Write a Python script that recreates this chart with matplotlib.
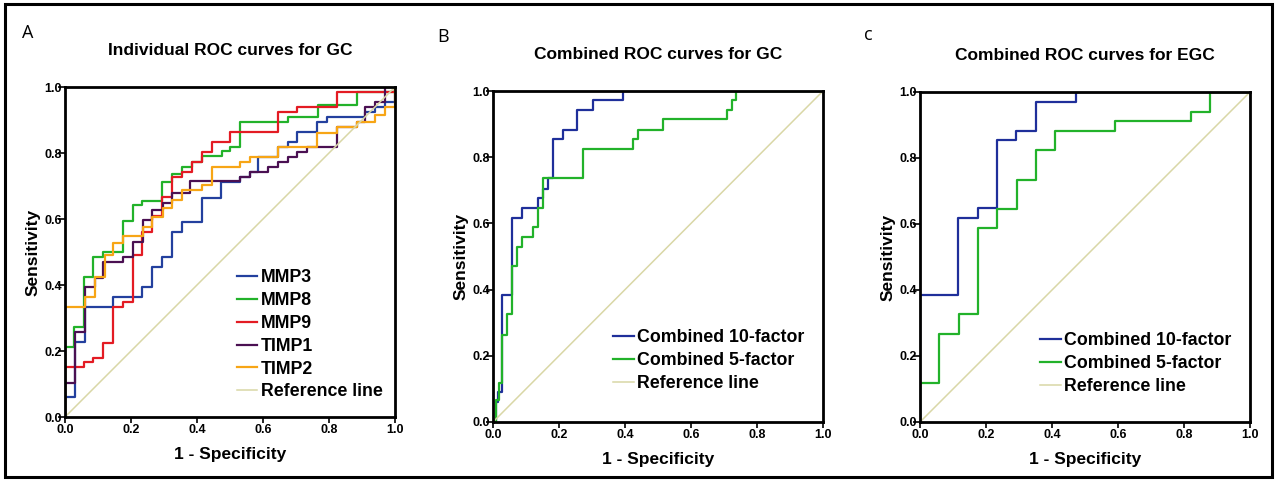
import matplotlib
matplotlib.use("Agg")
import matplotlib.pyplot as plt
from matplotlib.patches import Rectangle
from matplotlib.font_manager import FontProperties

plt.rcParams['font.family'] = ['Liberation Sans', 'DejaVu Sans']

# ---------------- data: ROC vertices (fpr where the rise happens, tpr after rise)
mmp3_fpr = [0, 0, 0.03, 0.06, 0.146, 0.234, 0.263, 0.295, 0.323, 0.355, 0.414, 0.472, 0.53, 0.56, 0.586, 0.646, 0.677, 0.702, 0.763, 0.793, 0.909, 0.939, 0.97, 1.0]
mmp3_tpr = [0, 0.06, 0.228, 0.332, 0.363, 0.393, 0.455, 0.485, 0.56, 0.59, 0.665, 0.712, 0.727, 0.742, 0.787, 0.818, 0.833, 0.863, 0.894, 0.909, 0.924, 0.94, 0.955, 1.0]

mmp8_fpr = [0, 0, 0.027, 0.058, 0.086, 0.116, 0.177, 0.207, 0.232, 0.293, 0.323, 0.354, 0.384, 0.414, 0.475, 0.5, 0.53, 0.677, 0.768, 0.884, 1.0]
mmp8_tpr = [0, 0.212, 0.273, 0.425, 0.485, 0.499, 0.595, 0.641, 0.654, 0.712, 0.737, 0.757, 0.772, 0.792, 0.805, 0.818, 0.894, 0.909, 0.944, 0.985, 1.0]

mmp9_fpr = [0, 0, 0.058, 0.086, 0.116, 0.146, 0.175, 0.205, 0.232, 0.263, 0.293, 0.323, 0.354, 0.384, 0.414, 0.444, 0.5, 0.646, 0.702, 0.823, 1.0]
mmp9_tpr = [0, 0.152, 0.167, 0.18, 0.225, 0.332, 0.347, 0.49, 0.56, 0.61, 0.666, 0.727, 0.742, 0.772, 0.803, 0.833, 0.863, 0.924, 0.939, 0.985, 1.0]

timp1_fpr = [0, 0, 0.03, 0.061, 0.091, 0.116, 0.177, 0.205, 0.237, 0.263, 0.296, 0.323, 0.379, 0.53, 0.56, 0.616, 0.646, 0.677, 0.702, 0.732, 0.823, 0.884, 0.909, 0.939, 0.97]
timp1_tpr = [0, 0.103, 0.258, 0.395, 0.42, 0.47, 0.485, 0.53, 0.597, 0.628, 0.648, 0.678, 0.714, 0.727, 0.742, 0.757, 0.772, 0.787, 0.803, 0.818, 0.879, 0.894, 0.939, 0.955, 1.0]

timp2_fpr = [0, 0, 0.061, 0.091, 0.121, 0.146, 0.177, 0.237, 0.263, 0.296, 0.323, 0.354, 0.414, 0.444, 0.53, 0.56, 0.646, 0.763, 0.823, 0.884, 0.94, 0.97, 1.0]
timp2_tpr = [0, 0.332, 0.364, 0.425, 0.491, 0.526, 0.547, 0.577, 0.607, 0.633, 0.658, 0.688, 0.703, 0.759, 0.772, 0.787, 0.818, 0.86, 0.879, 0.894, 0.916, 0.94, 1.0]

gc10_fpr = [0, 0.008, 0.015, 0.028, 0.057, 0.088, 0.135, 0.151, 0.166, 0.181, 0.212, 0.256, 0.302, 0.393, 1.0]
gc10_tpr = [0, 0.06, 0.09, 0.383, 0.616, 0.647, 0.677, 0.705, 0.737, 0.854, 0.883, 0.942, 0.972, 1.0, 1.0]

gc5_fpr = [0, 0.008, 0.017, 0.026, 0.041, 0.058, 0.073, 0.088, 0.121, 0.135, 0.151, 0.272, 0.423, 0.438, 0.514, 0.708, 0.723, 0.736, 1.0]
gc5_tpr = [0, 0.066, 0.118, 0.262, 0.325, 0.471, 0.529, 0.559, 0.589, 0.647, 0.737, 0.824, 0.854, 0.883, 0.914, 0.942, 0.972, 1.0, 1.0]

egc10_fpr = [0, 0, 0.116, 0.177, 0.232, 0.291, 0.352, 0.473, 1.0]
egc10_tpr = [0, 0.384, 0.619, 0.65, 0.854, 0.882, 0.97, 1.0, 1.0]

egc5_fpr = [0, 0, 0.059, 0.119, 0.177, 0.234, 0.293, 0.352, 0.409, 0.591, 0.82, 0.879, 1.0]
egc5_tpr = [0, 0.118, 0.266, 0.326, 0.589, 0.646, 0.734, 0.823, 0.882, 0.912, 0.939, 1.0, 1.0]

ref_line = [0, 1]
ticks = [0.0, 0.2, 0.4, 0.6, 0.8, 1.0]
tick_labels = ['0.0', '0.2', '0.4', '0.6', '0.8', '1.0']

titles = ['Individual ROC curves for GC', 'Combined ROC curves for GC', 'Combined ROC curves for EGC']
letters = ['A', 'B', 'c']

C_BLUE = '#23409e'
C_GREEN = '#22b22a'
C_RED = '#e31b23'
C_PURPLE = '#4a1052'
C_ORANGE = '#f7a515'
C_REF = '#d9d7a6'
C_BLUE2 = '#1f2f9a'

fig = plt.figure(figsize=(12.76, 4.8), dpi=100)

positions = [
    [65 / 1276, 63 / 480, 330 / 1276, 330 / 480],
    [493 / 1276, 58 / 480, 330 / 1276, 331 / 480],
    [920 / 1276, 58 / 480, 330 / 1276, 330 / 480],
]
axes = [fig.add_axes(p) for p in positions]

def style(ax, title):
    ax.set_xlim(0, 1)
    ax.set_ylim(0, 1)
    ax.set_xticks(ticks)
    ax.set_yticks(ticks)
    ax.set_xticklabels(tick_labels, fontsize=9, fontweight='bold')
    ax.set_yticklabels(tick_labels, fontsize=9, fontweight='bold')
    ax.tick_params(axis='y', direction='out', length=5, width=1.2, pad=-3)
    ax.tick_params(axis='x', direction='out', length=4, width=1.2, pad=1)
    for s in ax.spines.values():
        s.set_linewidth(2.0)
        s.set_color('black')
    ax.set_xlabel('1 - Specificity', fontsize=12.5, fontweight='bold', labelpad=8)
    ax.set_ylabel('Sensitivity', fontsize=12.5, fontweight='bold', labelpad=3)
    ax.set_title(title, fontsize=12.5, fontweight='bold', pad=23)

def legend_font():
    return FontProperties(family=['Liberation Sans'], weight='bold', size=12.8)

lw = 1.6
ax = axes[0]
ax.plot(mmp3_fpr, mmp3_tpr, drawstyle='steps-post', color=C_BLUE, lw=lw, label='MMP3')
ax.plot(mmp8_fpr, mmp8_tpr, drawstyle='steps-post', color=C_GREEN, lw=lw, label='MMP8')
ax.plot(mmp9_fpr, mmp9_tpr, drawstyle='steps-post', color=C_RED, lw=lw, label='MMP9')
ax.plot(timp1_fpr, timp1_tpr, drawstyle='steps-post', color=C_PURPLE, lw=lw, label='TIMP1')
ax.plot(timp2_fpr, timp2_tpr, drawstyle='steps-post', color=C_ORANGE, lw=lw, label='TIMP2')
ax.plot(ref_line, ref_line, color=C_REF, lw=1.1, label='Reference line')
style(ax, titles[0])
ax.legend(loc='lower left', bbox_to_anchor=(0.52, 0.05), frameon=False, borderpad=0,
          borderaxespad=0, handlelength=1.15, handletextpad=0.2, labelspacing=0.33,
          prop=legend_font())

for ax, f10, t10, f5, t5, title, ly in [(axes[1], gc10_fpr, gc10_tpr, gc5_fpr, gc5_tpr, titles[1], 0.09),
                                         (axes[2], egc10_fpr, egc10_tpr, egc5_fpr, egc5_tpr, titles[2], 0.082)]:
    ax.plot(f10, t10, drawstyle='steps-post', color=C_BLUE2, lw=lw, label='Combined 10-factor')
    ax.plot(f5, t5, drawstyle='steps-post', color=C_GREEN, lw=lw, label='Combined 5-factor')
    ax.plot(ref_line, ref_line, color=C_REF, lw=1.1, label='Reference line')
    style(ax, title)
    ax.legend(loc='lower left', bbox_to_anchor=(0.364, ly), frameon=False, borderpad=0,
              borderaxespad=0, handlelength=1.15, handletextpad=0.2, labelspacing=0.33,
              prop=legend_font())

letter_pos = [(28, 33), (443, 37), (868, 35)]
for (x, y), s in zip(letter_pos, letters):
    fig.text(x / 1276, 1 - y / 480, s, fontsize=13, family=['Open Sans', 'DejaVu Sans'],
             ha='center', va='center')

fig.add_artist(Rectangle((5 / 1276, 3 / 480), 1267 / 1276, 473 / 480, transform=fig.transFigure,
                         fill=False, edgecolor='black', lw=2.2))

fig.savefig('out.png', dpi=100)
